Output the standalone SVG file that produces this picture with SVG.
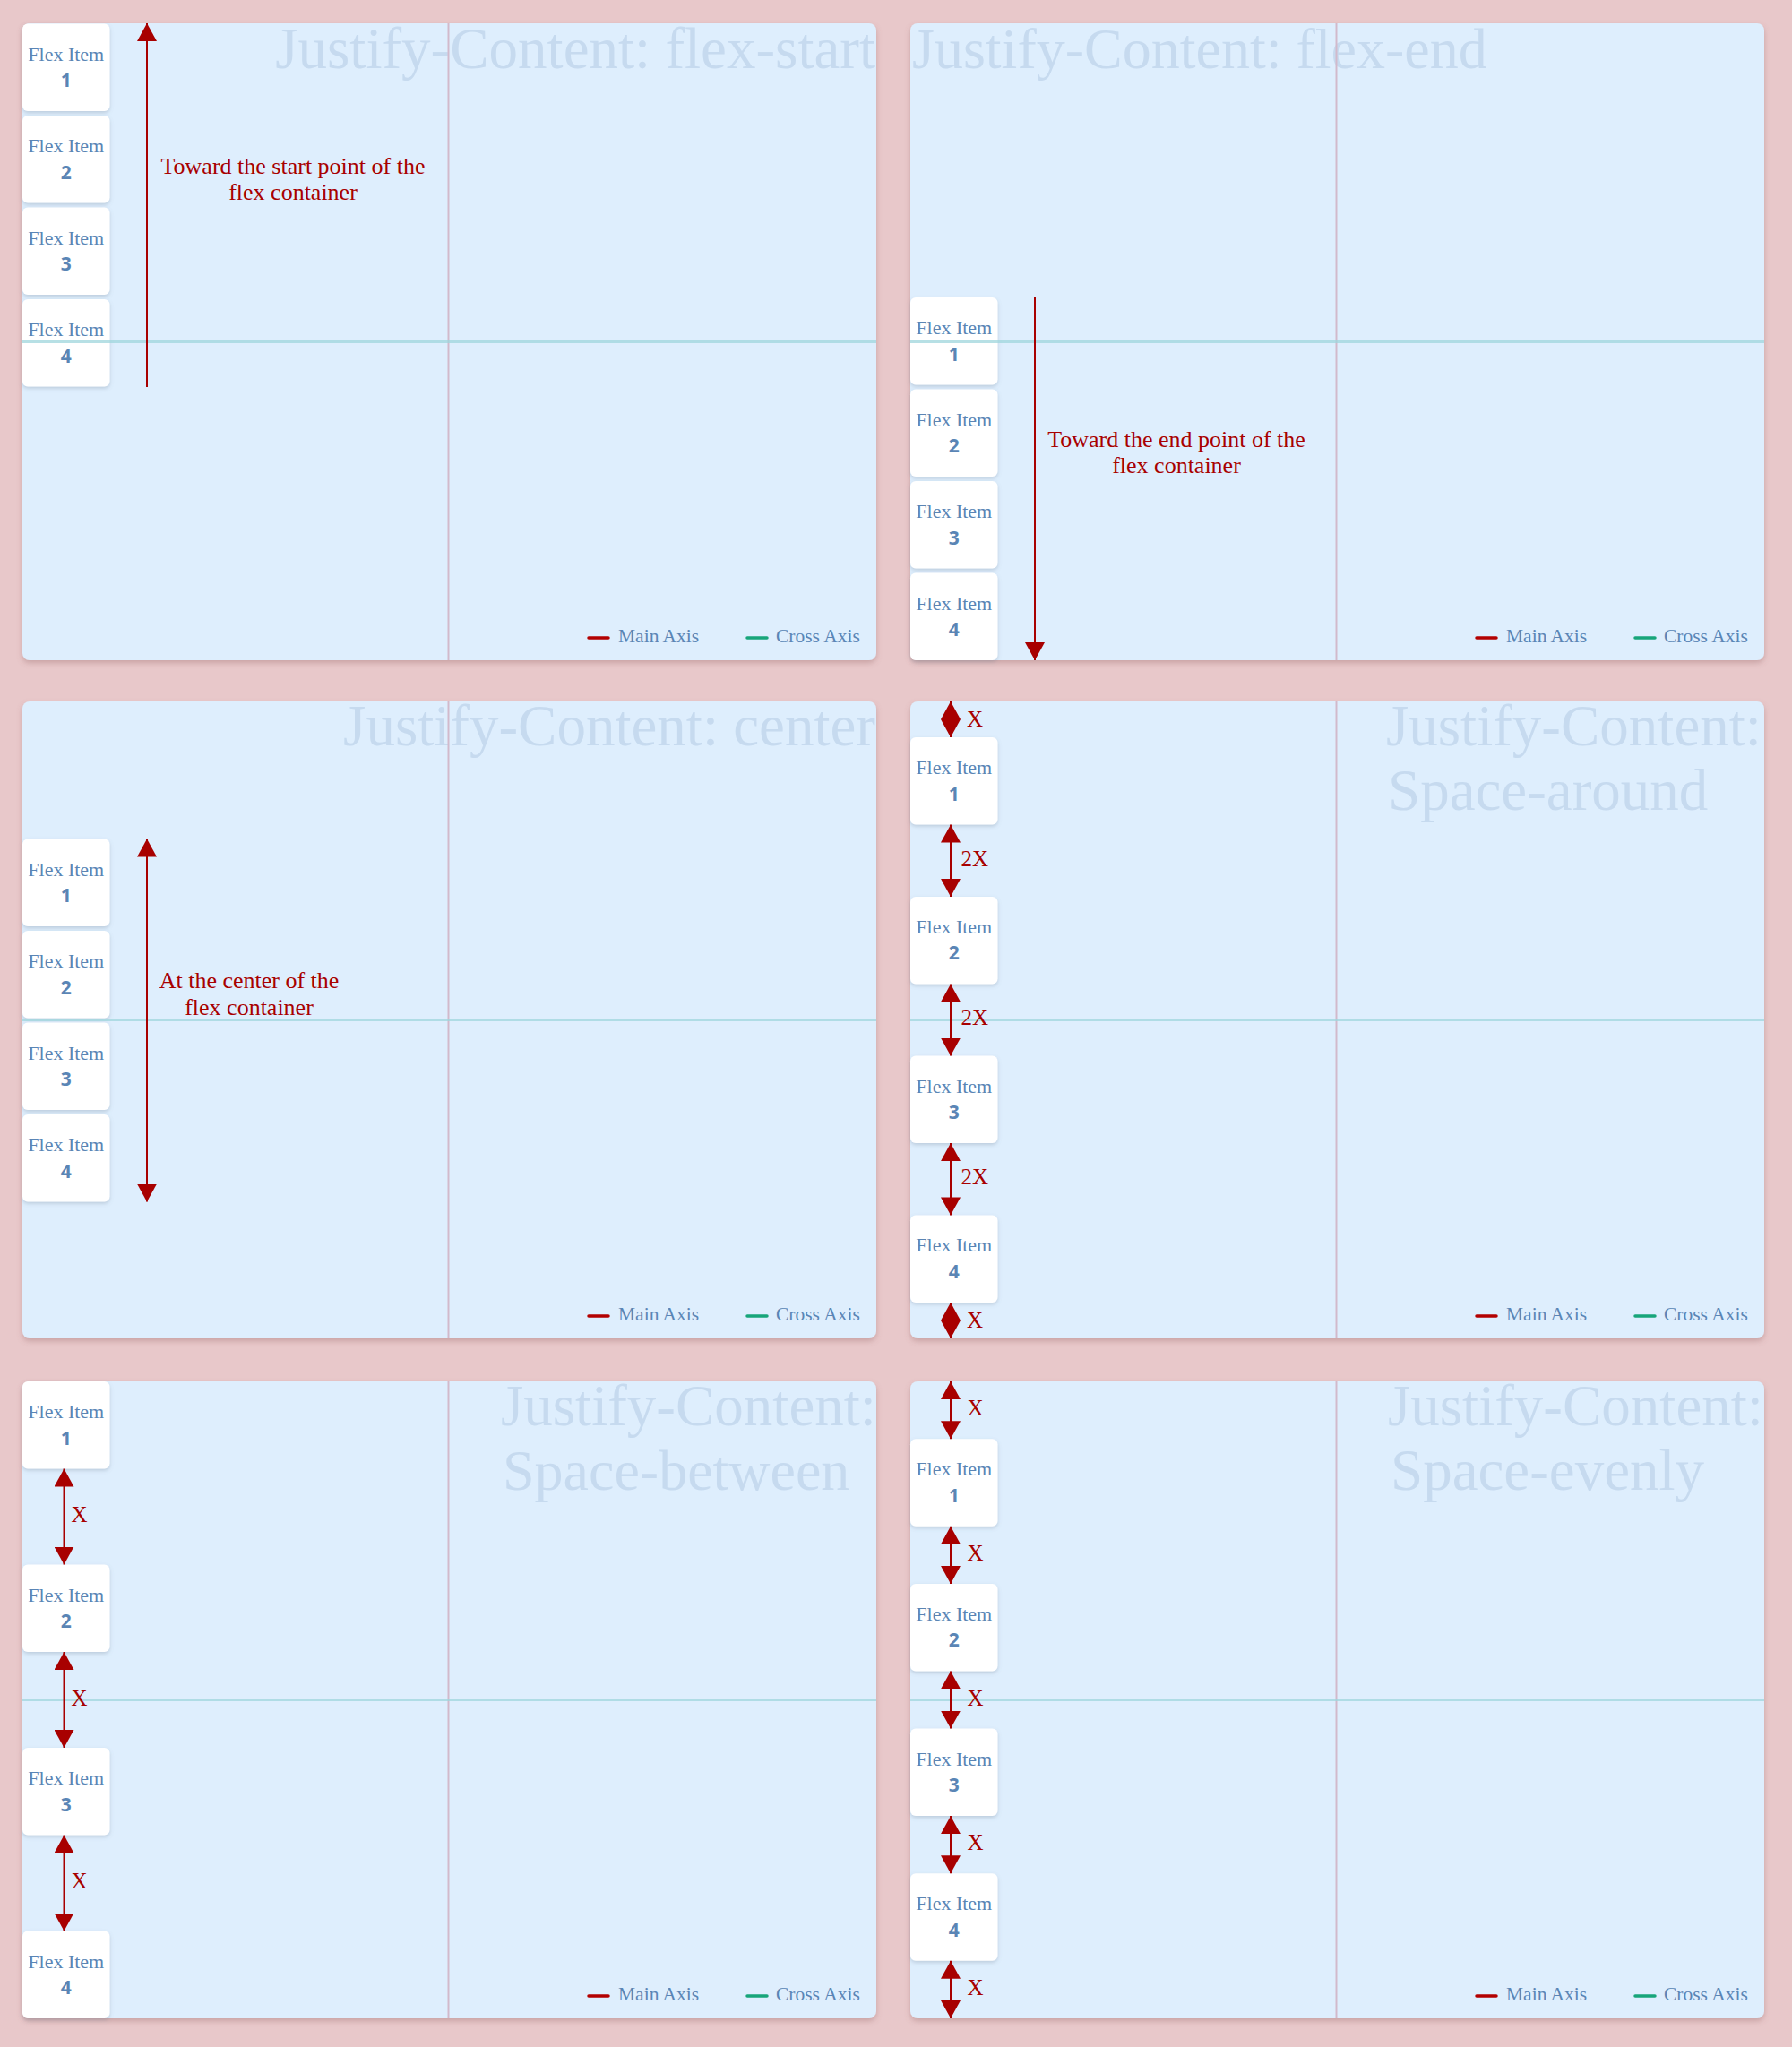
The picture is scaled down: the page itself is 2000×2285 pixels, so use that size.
<svg xmlns="http://www.w3.org/2000/svg" width="2000" height="2285" viewBox="0 0 2000 2285">
<defs>
<style>
.bg{fill:#e8c8ca}
.panel{fill:#deeefd;filter:url(#pshadow)}
.title{font-family:"Liberation Serif",serif;font-size:65px;fill:#c6daef}
.vaxis{stroke:#d2b9cb;stroke-width:2}
.haxis{stroke:#9fd6dc;stroke-width:3;stroke-opacity:0.75}
.item rect{fill:#ffffff;filter:url(#ishadow)}
.it{font-family:"Liberation Serif",serif;font-size:22px;fill:#5a85b5;text-anchor:middle}
.num{font-family:"Open Sans","DejaVu Sans",sans-serif;font-size:21px;font-weight:700;fill:#5a85b5;text-anchor:middle}
.leg{font-family:"Liberation Serif",serif;font-size:21.5px;fill:#5a85b5}
.lm{stroke:#b30000;stroke-width:3.5;stroke-linecap:round}
.lc{stroke:#17a57a;stroke-width:3.5;stroke-linecap:round}
.arr{stroke:#a80000;stroke-width:2;fill:none}
.desc{font-family:"Liberation Serif",serif;font-size:26px;fill:#a80000;text-anchor:middle}
.lbl{font-family:"Liberation Serif",serif;font-size:25px;fill:#a80000}
</style>
<filter id="pshadow" x="-5%" y="-5%" width="110%" height="112%">
<feDropShadow dx="0" dy="3" stdDeviation="3" flood-color="#8a5a5a" flood-opacity="0.35"/>
</filter>
<filter id="ishadow" x="-20%" y="-20%" width="140%" height="140%">
<feDropShadow dx="0" dy="2" stdDeviation="2" flood-color="#6a7a90" flood-opacity="0.3"/>
</filter>
<marker id="ah" markerUnits="userSpaceOnUse" markerWidth="20" markerHeight="22" viewBox="0 0 20 22" refX="20" refY="11" orient="auto-start-reverse">
<path d="M0,0 L20,11 L0,22 Z" fill="#a80000"/>
</marker>
</defs>
<rect class="bg" x="0" y="0" width="2000" height="2285"/>

<!-- Panel 1: flex-start -->
<g id="panel-flex-start">
<rect class="panel" x="25" y="26" width="953" height="711" rx="8"/>
<text class="title" x="977" y="76" text-anchor="end">Justify-Content: flex-start</text>
<g id="fs-item1" class="item"><rect x="25" y="26.5" width="97.5" height="97.5" rx="6"/><text class="it" x="73.75" y="67.5">Flex Item</text><text class="num" x="73.75" y="97">1</text></g>
<g id="fs-item2" class="item"><rect x="25" y="129" width="97.5" height="97.5" rx="6"/><text class="it" x="73.75" y="170">Flex Item</text><text class="num" x="73.75" y="199.5">2</text></g>
<g id="fs-item3" class="item"><rect x="25" y="231.5" width="97.5" height="97.5" rx="6"/><text class="it" x="73.75" y="272.5">Flex Item</text><text class="num" x="73.75" y="302">3</text></g>
<g id="fs-item4" class="item"><rect x="25" y="334" width="97.5" height="97.5" rx="6"/><text class="it" x="73.75" y="375">Flex Item</text><text class="num" x="73.75" y="404.5">4</text></g>
<line class="vaxis" x1="500.5" y1="26" x2="500.5" y2="737"/>
<line class="haxis" x1="25" y1="381.5" x2="978" y2="381.5"/>
<text class="desc" x="327" y="194">Toward the start point of the</text>
<text class="desc" x="327" y="223">flex container</text>
<line class="lm" x1="657" y1="712" x2="679" y2="712"/><text class="leg" x="690" y="717">Main Axis</text>
<line class="lc" x1="834" y1="712" x2="856" y2="712"/><text class="leg" x="866" y="717">Cross Axis</text>
</g>

<!-- Panel 2: flex-end -->
<g id="panel-flex-end">
<rect class="panel" x="1016" y="26" width="953" height="711" rx="8"/>
<text class="title" x="1018" y="76" style="font-size:64px">Justify-Content: flex-end</text>
<g id="fe-item1" class="item"><rect x="1016" y="332" width="97.5" height="97.5" rx="6"/><text class="it" x="1064.75" y="373">Flex Item</text><text class="num" x="1064.75" y="402.5">1</text></g>
<g id="fe-item2" class="item"><rect x="1016" y="434.5" width="97.5" height="97.5" rx="6"/><text class="it" x="1064.75" y="475.5">Flex Item</text><text class="num" x="1064.75" y="505">2</text></g>
<g id="fe-item3" class="item"><rect x="1016" y="537" width="97.5" height="97.5" rx="6"/><text class="it" x="1064.75" y="578">Flex Item</text><text class="num" x="1064.75" y="607.5">3</text></g>
<g id="fe-item4" class="item"><rect x="1016" y="639.5" width="97.5" height="97.5" rx="6"/><text class="it" x="1064.75" y="680.5">Flex Item</text><text class="num" x="1064.75" y="710">4</text></g>
<line class="vaxis" x1="1491.5" y1="26" x2="1491.5" y2="737"/>
<line class="haxis" x1="1016" y1="381.5" x2="1969" y2="381.5"/>
<text class="desc" x="1313" y="499">Toward the end point of the</text>
<text class="desc" x="1313" y="528">flex container</text>
<line class="lm" x1="1648" y1="712" x2="1670" y2="712"/><text class="leg" x="1681" y="717">Main Axis</text>
<line class="lc" x1="1825" y1="712" x2="1847" y2="712"/><text class="leg" x="1857" y="717">Cross Axis</text>
</g>

<!-- Panel 3: center -->
<g id="panel-center">
<rect class="panel" x="25" y="783" width="953" height="711" rx="8"/>
<text class="title" x="977" y="832" text-anchor="end">Justify-Content: center</text>
<g id="c-item1" class="item"><rect x="25" y="936.5" width="97.5" height="97.5" rx="6"/><text class="it" x="73.75" y="977.5">Flex Item</text><text class="num" x="73.75" y="1007">1</text></g>
<g id="c-item2" class="item"><rect x="25" y="1039" width="97.5" height="97.5" rx="6"/><text class="it" x="73.75" y="1080">Flex Item</text><text class="num" x="73.75" y="1109.5">2</text></g>
<g id="c-item3" class="item"><rect x="25" y="1141.5" width="97.5" height="97.5" rx="6"/><text class="it" x="73.75" y="1182.5">Flex Item</text><text class="num" x="73.75" y="1212">3</text></g>
<g id="c-item4" class="item"><rect x="25" y="1244" width="97.5" height="97.5" rx="6"/><text class="it" x="73.75" y="1285">Flex Item</text><text class="num" x="73.75" y="1314.5">4</text></g>
<line class="vaxis" x1="500.5" y1="783" x2="500.5" y2="1494"/>
<line class="haxis" x1="25" y1="1138.5" x2="978" y2="1138.5"/>
<text class="desc" x="278" y="1103">At the center of the</text>
<text class="desc" x="278" y="1133">flex container</text>
<line class="lm" x1="657" y1="1469" x2="679" y2="1469"/><text class="leg" x="690" y="1474">Main Axis</text>
<line class="lc" x1="834" y1="1469" x2="856" y2="1469"/><text class="leg" x="866" y="1474">Cross Axis</text>
</g>

<!-- Panel 4: space-around -->
<g id="panel-space-around">
<rect class="panel" x="1016" y="783" width="953" height="711" rx="8"/>
<text class="title" x="1547" y="832">Justify-Content:</text>
<text class="title" x="1549" y="904">Space-around</text>
<g id="sa-item1" class="item"><rect x="1016" y="823.1" width="97.5" height="97.5" rx="6"/><text class="it" x="1064.75" y="864.1">Flex Item</text><text class="num" x="1064.75" y="893.6">1</text></g>
<g id="sa-item2" class="item"><rect x="1016" y="1000.9" width="97.5" height="97.5" rx="6"/><text class="it" x="1064.75" y="1041.9">Flex Item</text><text class="num" x="1064.75" y="1071.4">2</text></g>
<g id="sa-item3" class="item"><rect x="1016" y="1178.6" width="97.5" height="97.5" rx="6"/><text class="it" x="1064.75" y="1219.6">Flex Item</text><text class="num" x="1064.75" y="1249.1">3</text></g>
<g id="sa-item4" class="item"><rect x="1016" y="1356.4" width="97.5" height="97.5" rx="6"/><text class="it" x="1064.75" y="1397.4">Flex Item</text><text class="num" x="1064.75" y="1426.9">4</text></g>
<line class="vaxis" x1="1491.5" y1="783" x2="1491.5" y2="1494"/>
<line class="haxis" x1="1016" y1="1138.5" x2="1969" y2="1138.5"/>
<line class="lm" x1="1648" y1="1469" x2="1670" y2="1469"/><text class="leg" x="1681" y="1474">Main Axis</text>
<line class="lc" x1="1825" y1="1469" x2="1847" y2="1469"/><text class="leg" x="1857" y="1474">Cross Axis</text>
</g>

<!-- Panel 5: space-between -->
<g id="panel-space-between">
<rect class="panel" x="25" y="1542" width="953" height="711" rx="8"/>
<text class="title" x="559" y="1591">Justify-Content:</text>
<text class="title" x="561" y="1663" style="font-size:64px">Space-between</text>
<g id="sb-item1" class="item"><rect x="25" y="1542" width="97.5" height="97.5" rx="6"/><text class="it" x="73.75" y="1583">Flex Item</text><text class="num" x="73.75" y="1612.5">1</text></g>
<g id="sb-item2" class="item"><rect x="25" y="1746.5" width="97.5" height="97.5" rx="6"/><text class="it" x="73.75" y="1787.5">Flex Item</text><text class="num" x="73.75" y="1817">2</text></g>
<g id="sb-item3" class="item"><rect x="25" y="1951" width="97.5" height="97.5" rx="6"/><text class="it" x="73.75" y="1992">Flex Item</text><text class="num" x="73.75" y="2021.5">3</text></g>
<g id="sb-item4" class="item"><rect x="25" y="2155.5" width="97.5" height="97.5" rx="6"/><text class="it" x="73.75" y="2196.5">Flex Item</text><text class="num" x="73.75" y="2226">4</text></g>
<line class="vaxis" x1="500.5" y1="1542" x2="500.5" y2="2253"/>
<line class="haxis" x1="25" y1="1897.5" x2="978" y2="1897.5"/>
<line class="lm" x1="657" y1="2228" x2="679" y2="2228"/><text class="leg" x="690" y="2233">Main Axis</text>
<line class="lc" x1="834" y1="2228" x2="856" y2="2228"/><text class="leg" x="866" y="2233">Cross Axis</text>
</g>

<!-- Panel 6: space-evenly -->
<g id="panel-space-evenly">
<rect class="panel" x="1016" y="1542" width="953" height="711" rx="8"/>
<text class="title" x="1549" y="1591">Justify-Content:</text>
<text class="title" x="1552" y="1663">Space-evenly</text>
<g id="se-item1" class="item"><rect x="1016" y="1606.2" width="97.5" height="97.5" rx="6"/><text class="it" x="1064.75" y="1647.2">Flex Item</text><text class="num" x="1064.75" y="1676.7">1</text></g>
<g id="se-item2" class="item"><rect x="1016" y="1767.9" width="97.5" height="97.5" rx="6"/><text class="it" x="1064.75" y="1808.9">Flex Item</text><text class="num" x="1064.75" y="1838.4">2</text></g>
<g id="se-item3" class="item"><rect x="1016" y="1929.6" width="97.5" height="97.5" rx="6"/><text class="it" x="1064.75" y="1970.6">Flex Item</text><text class="num" x="1064.75" y="2000.1">3</text></g>
<g id="se-item4" class="item"><rect x="1016" y="2091.3" width="97.5" height="97.5" rx="6"/><text class="it" x="1064.75" y="2132.3">Flex Item</text><text class="num" x="1064.75" y="2161.8">4</text></g>
<line class="vaxis" x1="1491.5" y1="1542" x2="1491.5" y2="2253"/>
<line class="haxis" x1="1016" y1="1897.5" x2="1969" y2="1897.5"/>
<line class="lm" x1="1648" y1="2228" x2="1670" y2="2228"/><text class="leg" x="1681" y="2233">Main Axis</text>
<line class="lc" x1="1825" y1="2228" x2="1847" y2="2228"/><text class="leg" x="1857" y="2233">Cross Axis</text>
</g>

<!-- Connectors -->
<g id="connectors">
<line class="arr" x1="164" y1="432" x2="164" y2="26" marker-end="url(#ah)"/>
<line class="arr" x1="1155" y1="332" x2="1155" y2="737" marker-end="url(#ah)"/>
<line class="arr" x1="164" y1="936.5" x2="164" y2="1341.5" marker-start="url(#ah)" marker-end="url(#ah)"/>

<line class="arr" x1="1061" y1="783" x2="1061" y2="823.1" marker-start="url(#ah)" marker-end="url(#ah)"/>
<line class="arr" x1="1061" y1="920.6" x2="1061" y2="1000.9" marker-start="url(#ah)" marker-end="url(#ah)"/>
<line class="arr" x1="1061" y1="1098.4" x2="1061" y2="1178.6" marker-start="url(#ah)" marker-end="url(#ah)"/>
<line class="arr" x1="1061" y1="1276.1" x2="1061" y2="1356.4" marker-start="url(#ah)" marker-end="url(#ah)"/>
<line class="arr" x1="1061" y1="1453.9" x2="1061" y2="1494" marker-start="url(#ah)" marker-end="url(#ah)"/>

<line class="arr" x1="71.5" y1="1639.5" x2="71.5" y2="1746.5" marker-start="url(#ah)" marker-end="url(#ah)"/>
<line class="arr" x1="71.5" y1="1844" x2="71.5" y2="1951" marker-start="url(#ah)" marker-end="url(#ah)"/>
<line class="arr" x1="71.5" y1="2048.5" x2="71.5" y2="2155.5" marker-start="url(#ah)" marker-end="url(#ah)"/>

<line class="arr" x1="1061" y1="1542" x2="1061" y2="1606.2" marker-start="url(#ah)" marker-end="url(#ah)"/>
<line class="arr" x1="1061" y1="1703.7" x2="1061" y2="1767.9" marker-start="url(#ah)" marker-end="url(#ah)"/>
<line class="arr" x1="1061" y1="1865.4" x2="1061" y2="1929.6" marker-start="url(#ah)" marker-end="url(#ah)"/>
<line class="arr" x1="1061" y1="2027.1" x2="1061" y2="2091.3" marker-start="url(#ah)" marker-end="url(#ah)"/>
<line class="arr" x1="1061" y1="2188.8" x2="1061" y2="2253" marker-start="url(#ah)" marker-end="url(#ah)"/>

<text class="lbl" x="1079" y="811">X</text>
<text class="lbl" x="1072.5" y="966.5">2X</text>
<text class="lbl" x="1072.5" y="1144">2X</text>
<text class="lbl" x="1072.5" y="1322">2X</text>
<text class="lbl" x="1079" y="1482">X</text>

<text class="lbl" x="79.5" y="1699">X</text>
<text class="lbl" x="79.5" y="1903.5">X</text>
<text class="lbl" x="79.5" y="2108">X</text>

<text class="lbl" x="1079.5" y="1580">X</text>
<text class="lbl" x="1079.5" y="1742">X</text>
<text class="lbl" x="1079.5" y="1903.5">X</text>
<text class="lbl" x="1079.5" y="2065">X</text>
<text class="lbl" x="1079.5" y="2227">X</text>
</g>
</svg>
